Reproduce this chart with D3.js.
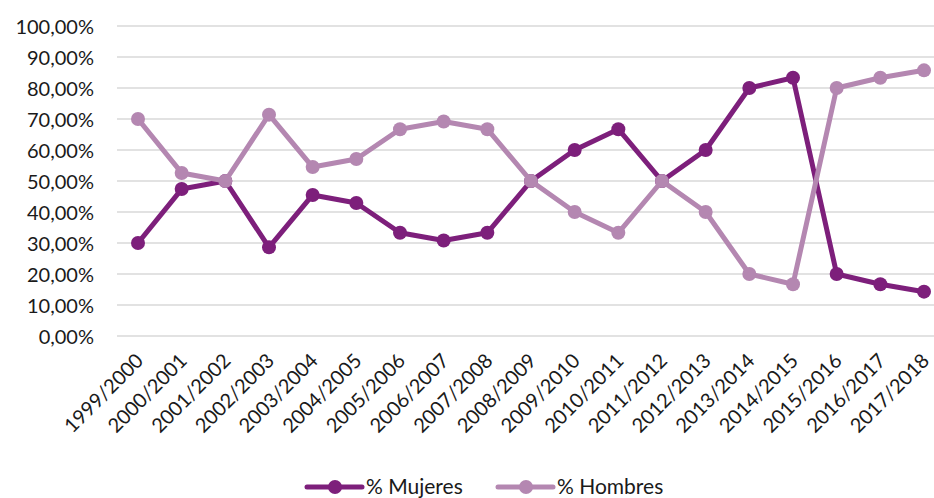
<!DOCTYPE html>
<html>
<head>
<meta charset="utf-8">
<script src="https://cdn.jsdelivr.net/npm/d3@7"></script>
<style>
  body { margin: 0; background: #fff; }
  svg text { font-family: Lato, "Open Sans", sans-serif; fill: #1a1a1a; }
</style>
</head>
<body>
<svg width="934" height="498"></svg>
<script>
const cursos = ['1999/2000', '2000/2001', '2001/2002', '2002/2003', '2003/2004', '2004/2005',
    '2005/2006', '2006/2007', '2007/2008', '2008/2009', '2009/2010', '2010/2011', '2011/2012',
    '2012/2013', '2013/2014', '2014/2015', '2015/2016', '2016/2017', '2017/2018'];
const mujeres = [30, 47.4, 50, 28.6, 45.5, 42.9, 33.3, 30.8, 33.3, 50, 60, 66.7, 50, 60, 80, 83.3, 20, 16.7, 14.3];
const hombres = [70, 52.6, 50, 71.4, 54.5, 57.1, 66.7, 69.2, 66.7, 50, 40, 33.3, 50, 40, 20, 16.7, 80, 83.3, 85.7];
const yTicks = [0, 10, 20, 30, 40, 50, 60, 70, 80, 90, 100];

const series = [
    { name: '% Mujeres', values: mujeres, color: '#7d1f7b' },
    { name: '% Hombres', values: hombres, color: '#b487b1' }
];

const svg = d3.select('svg');

const x = d3.scalePoint().domain(cursos).range([138, 924]);
const y = d3.scaleLinear().domain([0, 100]).range([336, 26]);

const fmt = v => v.toFixed(2).replace('.', ',') + '%';

// gridlines
svg.append('g')
    .selectAll('line').data(yTicks)
    .enter().append('line')
    .attr('x1', 117).attr('x2', 934)
    .attr('y1', d => y(d)).attr('y2', d => y(d))
    .attr('stroke', '#d9d9d9').attr('stroke-width', 1.5)

// y axis labels
const yAxis = svg.append('g')
    .attr('transform', 'translate(94,0)')
    .call(d3.axisLeft(y).tickValues(yTicks).tickFormat(fmt).tickSize(0).tickPadding(0))
yAxis.select('.domain').remove()
yAxis.selectAll('text').style('font-size', '20px').attr('dy', '0.35em')

// x axis labels
const xAxis = svg.append('g')
    .attr('transform', 'translate(0,336)')
    .call(d3.axisBottom(x).tickSize(0))
xAxis.select('.domain').remove()
xAxis.selectAll('text')
    .style('font-size', '20px')
    .attr('text-anchor', 'end')
    .attr('dy', '0.35em')
    .attr('transform', 'translate(-1,19) rotate(-45)')

const line = d3.line()
    .x((d, i) => x(cursos[i]))
    .y(d => y(d));

series.forEach(s => {
    const g = svg.append('g');
    g.append('path')
        .attr('d', line(s.values))
        .attr('fill', 'none')
        .attr('stroke', s.color)
        .attr('stroke-width', 5)
        .attr('stroke-linejoin', 'round')
    g.selectAll('circle').data(s.values)
        .enter().append('circle')
        .attr('cx', (d, i) => x(cursos[i]))
        .attr('cy', d => y(d))
        .attr('r', 7)
        .attr('fill', s.color)
})

// legend
const legend = svg.append('g').attr('transform', 'translate(0,487)');
const legendX = [307, 498];
series.forEach((s, i) => {
    const g = legend.append('g').attr('transform', `translate(${legendX[i]},0)`);
    g.append('line').attr('x1', 0).attr('x2', 55)
        .attr('stroke', s.color).attr('stroke-width', 5).attr('stroke-linecap', 'round')
    g.append('circle').attr('cx', 28).attr('r', 7).attr('fill', s.color)
    g.append('text').attr('x', 59).attr('dy', '0.35em')
        .style('font-size', '21px').text(s.name)
})
</script>
</body>
</html>
